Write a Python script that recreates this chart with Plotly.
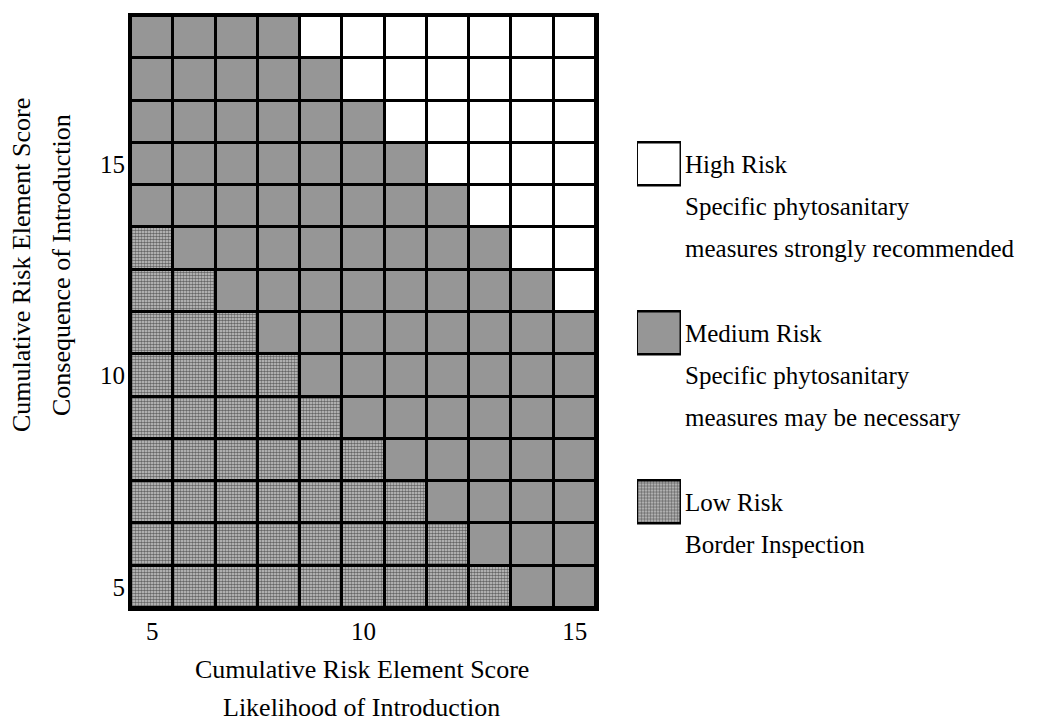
import plotly.graph_objects as go

# ---- data ----
x_scores = [5, 6, 7, 8, 9, 10, 11, 12, 13, 14, 15]          # Likelihood of Introduction
y_scores = [18, 17, 16, 15, 14, 13, 12, 11, 10, 9, 8, 7, 6, 5]  # Consequence of Introduction (top to bottom)
# Risk class per cell: H = High, M = Medium, L = Low (each string = one row, x = 5..15)
grid_rows = [
    "MMMMHHHHHHH",  # 18
    "MMMMMHHHHHH",  # 17
    "MMMMMMHHHHH",  # 16
    "MMMMMMMHHHH",  # 15
    "MMMMMMMMHHH",  # 14
    "LMMMMMMMMHH",  # 13
    "LLMMMMMMMMH",  # 12
    "LLLMMMMMMMM",  # 11
    "LLLLMMMMMMM",  # 10
    "LLLLLMMMMMM",  # 9
    "LLLLLLMMMMM",  # 8
    "LLLLLLLMMMM",  # 7
    "LLLLLLLLMMM",  # 6
    "LLLLLLLLLMM",  # 5
]
tick_vals = [5, 10, 15]
risk_codes = ["H", "M", "L"]
risk_names = ["High Risk", "Medium Risk", "Low Risk"]
risk_desc = [
    ["Specific phytosanitary", "measures strongly recommended"],
    ["Specific phytosanitary", "measures may be necessary"],
    ["Border Inspection"],
]
x_title = ["Cumulative Risk Element Score", "Likelihood of Introduction"]
y_title = ["Cumulative Risk Element Score", "Consequence of Introduction"]

# ---- styles ----
FONT = "Liberation Serif"
FS = 25
FS_TITLE = 26
styles = {
    "H": dict(color="#ffffff", pattern=dict(shape="")),
    "M": dict(color="#969696", pattern=dict(shape="")),
    "L": dict(color="#d0d0d0", pattern=dict(shape=".", fgcolor="#666666", bgcolor="#d0d0d0",
                                          size=3, solidity=0.6, fillmode="replace")),
}

fig = go.Figure()

for code in risk_codes:
    xs, bases = [], []
    for yv, row in zip(y_scores, grid_rows):
        for xv, c in zip(x_scores, row):
            if c == code:
                xs.append(xv)
                bases.append(yv - 0.5)
    st = styles[code]
    fig.add_trace(go.Bar(
        x=xs, y=[1] * len(xs), base=bases, width=1,
        marker=dict(color=st["color"], pattern=st["pattern"],
                    line=dict(color="black", width=3)),
        showlegend=False, hoverinfo="skip", xaxis="x", yaxis="y",
    ))

# legend squares (horizontal bars on their own axes)
for i, code in enumerate(risk_codes):
    st = styles[code]
    fig.add_trace(go.Bar(
        y=[i], x=[1], orientation="h", width=0.25,
        marker=dict(color=st["color"], pattern=st["pattern"],
                    line=dict(color="black", width=2.5)),
        showlegend=False, hoverinfo="skip", xaxis="x2", yaxis="y2",
    ))

annotations = []
for i, (name, desc) in enumerate(zip(risk_names, risk_desc)):
    lines = [name] + desc
    for k, t in enumerate(lines):
        annotations.append(dict(
            text=t, xref="paper", yref="y2", x=0.6079, y=i, yshift=-42 * k,
            xanchor="left", yanchor="middle", showarrow=False,
            font=dict(family=FONT, size=FS, color="black"),
        ))

for k, t in enumerate(x_title):
    annotations.append(dict(
        text=t, xref="paper", yref="paper", x=0.2544, y=-0.1047 - 0.0642 * k,
        xanchor="center", yanchor="middle", showarrow=False,
        font=dict(family=FONT, size=FS_TITLE, color="black"),
    ))
for k, t in enumerate(y_title):
    annotations.append(dict(
        text=t, xref="paper", yref="paper", x=-0.12 + 0.044 * k, y=0.5794,
        xanchor="center", yanchor="middle", showarrow=False, textangle=-90,
        font=dict(family=FONT, size=FS_TITLE, color="black"),
    ))

fig.update_layout(
    width=1039, height=724,
    margin=dict(l=131, r=0, t=16, b=116),
    paper_bgcolor="white", plot_bgcolor="white",
    barmode="overlay", bargap=0,
    font=dict(family=FONT, size=FS, color="black"),
    xaxis=dict(domain=[0, 465 / 908], range=[4.5, 15.5], tickvals=tick_vals,
               showgrid=False, zeroline=False, ticks="", ticklabelstandoff=-1,
               showline=True, linecolor="black", linewidth=3, mirror=True),
    yaxis=dict(range=[4.5, 18.5], tickvals=tick_vals,
               showgrid=False, zeroline=False, ticks="", ticklabelstandoff=-2,
               showline=True, linecolor="black", linewidth=3, mirror=True),
    xaxis2=dict(domain=[0.5573, 0.6057], range=[0, 1], visible=False, anchor="y2"),
    yaxis2=dict(domain=[0.0363, 0.8927], range=[2.5, -0.5], visible=False, anchor="x2"),
    annotations=annotations,
)

fig.write_html("out.html", config={"displayModeBar": False},
               post_script="document.body.style.margin='0';document.body.style.overflow='hidden';")
